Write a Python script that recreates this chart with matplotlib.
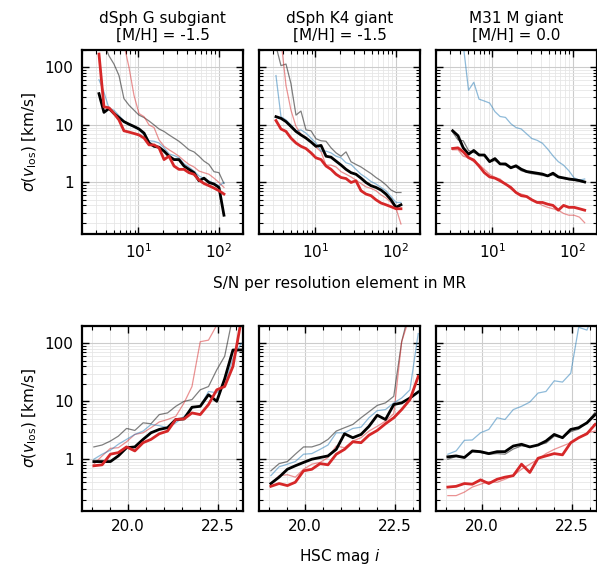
import matplotlib
matplotlib.use("Agg")
import matplotlib.pyplot as plt
from matplotlib.ticker import FuncFormatter, NullFormatter, LogLocator, MultipleLocator

plt.rcParams['font.family'] = ['DejaVu Sans']
plt.rcParams['font.size'] = 11

titles = ["dSph G subgiant\n[M/H] = -1.5", "dSph K4 giant\n[M/H] = -1.5", "M31 M giant\n[M/H] = 0.0"]

# S/N grids (top row)
sn_g = [3.25, 3.75, 4.33, 4.99, 5.76, 6.64, 7.67, 8.85, 10.2, 11.8, 13.6, 15.7, 18.1,
        20.9, 24.1, 27.8, 32.0, 37.0, 42.6, 49.2, 56.8, 65.5, 75.5, 87.2, 100.6, 116.0]
sn_k = [3.25, 3.75, 4.33, 4.99, 5.76, 6.64, 7.67, 8.85, 10.2, 11.8, 13.6, 15.7, 18.1,
        20.9, 24.1, 27.8, 32.0, 37.0, 42.6, 49.2, 56.8, 65.5, 75.5, 87.2, 100.6, 116.0]
sn_m = [3.22, 3.75, 4.36, 5.07, 5.89, 6.85, 7.97, 9.27, 10.8, 12.5, 14.6, 17.0, 19.7,
        22.9, 26.7, 31.0, 36.1, 42.0, 48.8, 56.8, 66.1, 76.8, 89.4, 104.0, 120.9, 140.6]

# magnitude grid (bottom row)
mag = [19.05, 19.28, 19.51, 19.73, 19.96, 20.19, 20.42, 20.64, 20.87, 21.10,
       21.33, 21.56, 21.78, 22.01, 22.24, 22.47, 22.69, 22.92, 23.15]

# ---- top row: sigma vs S/N ----
g_black = [34.9, 16.5, 19.3, 15.8, 13.4, 11.4, 10.3, 9.4, 8.5, 7.2, 4.85, 4.25, 4.1,
           3.5, 2.86, 2.5, 2.5, 1.93, 1.69, 1.48, 1.07, 1.19, 1.0, 0.94, 0.82, 0.27]
g_red = [170, 20.6, 19.8, 15.8, 12.2, 7.9, 7.5, 7.1, 6.7, 5.9, 4.5, 4.5, 4.0,
         2.5, 2.86, 1.93, 1.69, 1.69, 1.48, 1.39, 1.1, 0.96, 0.88, 0.8, 0.72, 0.63]
g_grey = [500, 260, 158, 114, 72, 28.6, 22, 18, 14.8, 13.4, 11.7, 10, 8.5,
          7.7, 6.7, 5.9, 5.2, 4.4, 3.7, 3.4, 2.86, 2.35, 2.06, 1.54, 1.48, 0.96]
g_lred = [2000, 1500, 1000, 800, 600, 250, 100, 32.6, 15.8, 13.9, 10, 9, 5.5,
          4.25, 3.7, 3.27, 2.86, 2.4, 2.06, 1.86, 1.58, 1.48, 1.39, 1.19, 1.0, 0.82]
g_blue = [61, 37, 19.3, 18, 14.5, 11.7, 10, 9.2, 8.2, 6.7, 5.3, 5.2, 4.85,
          4.0, 3.14, 2.94, 2.68, 2.12, 1.86, 1.58, 1.3, 1.17, 1.07, 0.96, 0.88, 1.0]

k_black = [13.9, 13.0, 11.4, 9.4, 7.7, 6.7, 5.9, 5.05, 4.25, 4.4, 2.86, 2.75, 2.35,
           2.01, 1.69, 1.48, 1.39, 1.19, 1.0, 0.88, 0.82, 0.74, 0.63, 0.5, 0.37, 0.41]
k_red = [11.9, 8.5, 7.7, 5.9, 4.85, 4.25, 3.88, 3.27, 2.68, 2.5, 1.93, 1.69, 1.39,
         1.22, 1.17, 1.0, 1.07, 0.72, 0.63, 0.59, 0.5, 0.44, 0.41, 0.38, 0.35, 0.35]
k_grey = [235, 107, 114, 52, 14.8, 17.4, 8.2, 7.9, 5.75, 5.3, 5.2, 4.0, 3.27,
          2.86, 3.4, 2.29, 2.06, 1.86, 1.63, 1.43, 1.22, 1.07, 0.91, 0.74, 0.67, 0.67]
k_lred = [700, 300, 48.5, 18, 9.4, 6.9, 6.1, 5.05, 4.1, 3.4, 2.0, 2.0, 1.86,
          1.54, 1.39, 1.25, 1.1, 0.96, 0.84, 0.79, 0.72, 0.61, 0.54, 0.45, 0.36, 0.19]
k_blue = [72, 13.9, 12.2, 10, 7.9, 8.2, 7.2, 5.9, 4.85, 3.5, 3.5, 3.27, 2.86,
          2.68, 2.2, 2.06, 1.69, 1.39, 1.22, 1.04, 0.94, 0.82, 0.72, 0.57, 0.45, 0.45]

m_black = [7.9, 6.5, 4.0, 3.1, 3.6, 3.0, 3.0, 2.3, 2.6, 2.1, 2.1, 1.8, 1.95,
           1.7, 1.55, 1.5, 1.45, 1.4, 1.3, 1.45, 1.25, 1.2, 1.15, 1.12, 1.08, 1.02]
m_red = [3.9, 4.0, 3.4, 2.7, 2.45, 1.93, 1.48, 1.25, 1.19, 1.07, 0.94, 0.82, 0.67,
         0.59, 0.57, 0.5, 0.45, 0.45, 0.42, 0.4, 0.33, 0.4, 0.37, 0.37, 0.35, 0.33]
m_grey = [7.5, 5.5, 5.3, 3.6, 3.3, 3.1, 2.9, 2.3, 2.4, 2.1, 2.0, 1.8, 1.85,
          1.6, 1.5, 1.42, 1.38, 1.32, 1.3, 1.35, 1.22, 1.18, 1.12, 1.1, 1.05, 1.0]
m_lred = [3.7, 3.7, 2.86, 2.68, 2.29, 2.06, 1.69, 1.39, 1.22, 1.15, 0.94, 0.77, 0.67,
          0.63, 0.59, 0.5, 0.45, 0.4, 0.37, 0.35, 0.33, 0.29, 0.27, 0.27, 0.25, 0.2]
m_blue = [1000, 600, 250, 40, 55, 28, 26, 24, 17, 14, 13.5, 10.5, 9,
          8.5, 7, 5.8, 5.4, 4.8, 3.8, 2.9, 2.3, 2.0, 1.6, 1.2, 1.1, 1.15]

# ---- bottom row: sigma vs magnitude ----
gm_black = [0.91, 0.91, 0.91, 1.14, 1.58, 1.63, 2.2, 2.86, 3.27, 3.5, 4.85, 4.97,
            7.9, 8.2, 13, 10, 24.5, 77, 77]
gm_red = [0.77, 0.8, 1.22, 1.3, 1.63, 1.39, 1.93, 2.2, 2.75, 3.06, 4.85, 4.97,
          6.3, 5.9, 8.8, 15.8, 18, 40, 250]
gm_grey = [1.63, 1.76, 2.06, 2.5, 3.4, 3.14, 4.25, 4.1, 5.9, 6.3, 8.2, 10, 10.7,
           15.8, 18, 35, 60, 300, 800]
gm_lred = [0.82, 1.14, 1.54, 1.58, 2.0, 2.68, 2.86, 3.5, 4.4, 4.85, 5.5, 9.4, 18,
           107, 114, 207, 400, 700, 1000]
gm_blue = [1.0, 1.22, 1.43, 1.81, 2.2, 2.68, 3.06, 3.98, 3.8, 3.5, 4.25, 5.5, 7.7,
           8.2, 14.8, 14, 19.3, 55, 100]

km_black = [0.38, 0.49, 0.67, 0.77, 0.88, 1.0, 1.07, 1.14, 1.48, 2.75, 2.35, 2.68,
            3.7, 5.75, 4.85, 8.8, 9.4, 11.4, 14.5]
km_red = [0.34, 0.38, 0.35, 0.4, 0.63, 0.67, 0.84, 0.8, 1.22, 1.48, 2.0, 1.93,
          2.6, 3.14, 4.1, 5.2, 7.2, 10.7, 26.8]
km_grey = [0.63, 0.84, 0.91, 1.22, 1.63, 1.63, 1.81, 2.2, 3.06, 3.5, 3.98, 5.2,
           6.6, 8.5, 9.4, 12.2, 107, 400, 800]
km_lred = [0.37, 0.52, 0.54, 0.49, 0.67, 0.82, 0.88, 1.07, 1.69, 1.58, 2.06, 2.35,
           3.06, 3.7, 4.55, 6.1, 107, 300, 600]
km_blue = [0.52, 0.74, 0.82, 0.91, 1.22, 1.25, 1.48, 1.76, 2.86, 2.86, 3.4, 3.58,
           5.2, 6.9, 7.2, 9.4, 11.4, 15.8, 148]

mm_black = [1.1, 1.14, 1.07, 1.39, 1.35, 1.25, 1.35, 1.35, 1.69, 1.81, 1.63, 1.76,
            2.06, 2.68, 2.35, 3.27, 3.5, 4.25, 5.9]
mm_red = [0.33, 0.34, 0.38, 0.37, 0.44, 0.38, 0.45, 0.49, 0.52, 0.82, 0.59, 1.04,
          1.14, 1.25, 1.19, 1.93, 2.35, 2.75, 4.0]
mm_grey = [1.0, 1.12, 1.07, 1.35, 1.3, 1.22, 1.25, 1.22, 1.5, 1.7, 1.63, 1.76,
           1.9, 2.5, 2.35, 3.0, 3.3, 4.3, 6.5]
mm_lred = [0.235, 0.235, 0.27, 0.33, 0.37, 0.41, 0.4, 0.45, 0.52, 0.67, 0.82, 1.0,
           1.25, 1.48, 1.69, 1.93, 2.35, 2.86, 3.06]
mm_blue = [1.22, 1.39, 2.12, 2.15, 2.86, 3.27, 5.2, 4.85, 7.2, 8.2, 9.7, 13.9,
           14.8, 22.6, 21.5, 30.6, 190, 170, 400]

top_data = [
    (sn_g, g_black, g_red, g_grey, g_lred, g_blue),
    (sn_k, k_black, k_red, k_grey, k_lred, k_blue),
    (sn_m, m_black, m_red, m_grey, m_lred, m_blue),
]
bot_data = [
    (mag, gm_black, gm_red, gm_grey, gm_lred, gm_blue),
    (mag, km_black, km_red, km_grey, km_lred, km_blue),
    (mag, mm_black, mm_red, mm_grey, mm_lred, mm_blue),
]

RED = '#d62728'
BLUE = '#1f77b4'

W, H = 597, 577
fig = plt.figure(figsize=(W / 100, H / 100), dpi=100)

lefts = [82, 259, 436]
pw = 161
rows = [(50, 233.5), (326, 510.5)]


def style(ax):
    ax.set_yscale('log')
    ax.set_ylim(0.13, 200)
    ax.tick_params(which='both', direction='in', top=True, right=True, pad=6)
    ax.tick_params(which='major', length=5, width=1.0)
    ax.tick_params(which='minor', length=3, width=0.8)
    for s in ax.spines.values():
        s.set_linewidth(1.6)
    ax.yaxis.set_major_locator(LogLocator(base=10, numticks=10))
    ax.yaxis.set_minor_locator(LogLocator(base=10, subs=[2, 3, 4, 5, 6, 7, 8, 9], numticks=20))
    ax.yaxis.set_major_formatter(FuncFormatter(lambda v, p: f'{v:g}'))
    ax.yaxis.set_minor_formatter(NullFormatter())
    ax.grid(which='major', color='0.8', lw=0.8)
    ax.grid(which='minor', color='0.9', lw=0.6)
    ax.set_axisbelow(True)


def draw(ax, x, black, red, grey, lred, blue):
    ax.plot(x, grey, color='black', alpha=0.5, lw=0.9)
    ax.plot(x, lred, color=RED, alpha=0.5, lw=0.9)
    ax.plot(x, blue, color=BLUE, alpha=0.5, lw=0.9)
    ax.plot(x, black, color='black', lw=2.0)
    ax.plot(x, red, color=RED, lw=2.0)


for r, (ytop, ybot) in enumerate(rows):
    for c in range(3):
        ax = fig.add_axes([lefts[c] / W, 1 - ybot / H, pw / W, (ybot - ytop) / H])
        style(ax)
        if r == 0:
            ax.set_xscale('log')
            ax.set_xlim(2, 200)
            ax.xaxis.set_minor_formatter(NullFormatter())
            draw(ax, *top_data[c])
            ax.set_title(titles[c], fontsize=11, pad=7)
        else:
            ax.set_xlim(18.72, 23.2)
            ax.xaxis.set_major_locator(MultipleLocator(2.5))
            ax.xaxis.set_minor_locator(MultipleLocator(0.5))
            ax.xaxis.set_major_formatter(FuncFormatter(lambda v, p: f'{v:.1f}'))
            draw(ax, *bot_data[c])
        if c == 0:
            ax.set_ylabel(r'$\sigma(v_{\rm los})$ [km/s]', fontsize=11)
        else:
            ax.tick_params(labelleft=False)

fig.text(340 / W, 1 - 283 / H, 'S/N per resolution element in MR', ha='center', va='center', fontsize=11)
fig.text(340 / W, 1 - 557 / H, r'HSC mag $i$', ha='center', va='center', fontsize=11)

fig.savefig('out.png', dpi=100)
